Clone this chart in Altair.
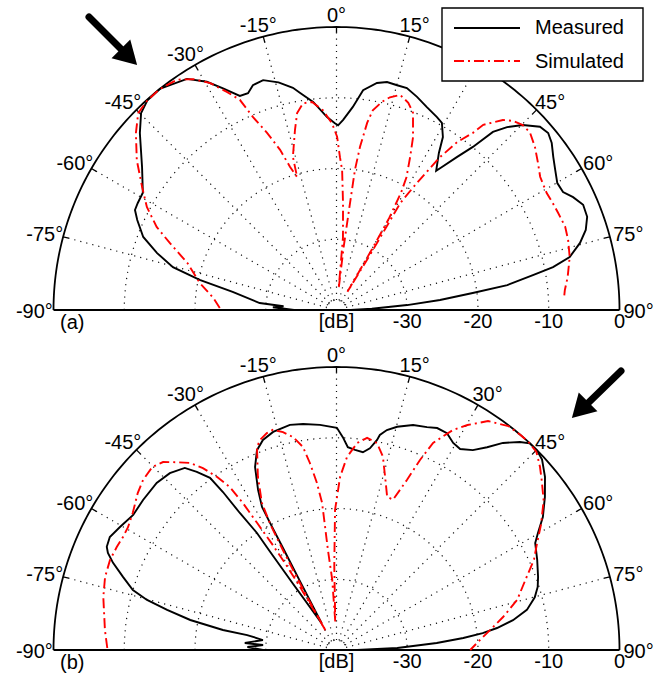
import altair as alt
import pandas as pd

# ---------------- data (angle in degrees, level in dB) ----------------
SERIES = ["Measured", "Simulated"]

A_MEAS_ANG = [-90, -87.5, -86, -84.8, -80.1, -77.6, -75.3, -72.4, -69.3, -65.7, -63.6, -61.7, -58.8, -53.7, -48.0,
              -44.8, -42.1, -38.5, -32.9, -29.6, -27.1, -24.3, -22.2, -20.4, -17.7, -14.3, -11.1, -9.5, -6.4, -2.8,
              -0.5, 0.5, 2.0, 4.6, 6.9, 10.1, 12.5, 15.1, 17.6, 20.7, 24.0, 27.5, 29.4, 31.6, 33.1, 35.6, 36.3, 38.2,
              39.9, 41.3, 43.0, 45.2, 48.0, 50.1, 52.2, 54.8, 57.4, 60.1, 62.5, 64.5, 66.9, 69.6, 72.2, 74.6, 77.2,
              78.8, 79.9, 81.7, 82.9, 84.5, 86.0, 88.0, 90.0]
A_MEAS_DB = [-34, -31, -32.5, -29.1, -25.1, -20.2, -16.1, -13.4, -10.8, -9.1, -8.2, -8.1, -8.0, -5.9, -2.6,
             -0.8, -0.1, 0, -1.1, -2.9, -4.8, -6.8, -6.9, -6.1, -5.9, -6.8, -8.0, -8.9, -10.4, -12.7,
             -13.6, -13.9, -13.1, -11.2, -8.7, -7.4, -7.0, -7.1, -7.1, -7.8, -8.6, -9.25, -9.65, -11.3, -13.5, -15.8,
             -15.0, -12.5, -9.95, -6.5, -4.65, -2.9, -1.3, -1.0, -1.5, -2.5, -3.3, -4.0, -3.9, -2.95, -2.1, -2.2,
             -3.0, -4.3, -6.2, -8.8, -11.8, -15.6, -20.6, -25.3, -30, -35, -38]

A_SIM_ANG = [-89, -84.4, -78.8, -72.5, -68.1, -65.2, -61.5, -57.7, -53.1, -48.6, -45.2, -42.1, -38.8, -34.7, -31.8,
             -29.1, -26.7, -24.7, -23.4, -21.4, -19.4, -18.0, -16.5, -15.9, -13.0, -11.3, -9.2, -6.7, -3.9, -1.4,
             0.2, 1.3, 2.3, 3.5, 5.1, 5.8, 6.5, 7.2, 7.5, 8.2, 9.3, 10.3, 12.3, 14.1, 16.5, 19.1, 21.2, 23.9, 25.7,
             27.8, 28.8, 29.8, 30.3, 31.0, 31.3, 31.0, 30.8, 32.3, 34.1, 35.7, 37.6, 38.4, 41.2, 43.0, 45.2, 47.5,
             50.6, 53.9, 56.8, 60.9, 63.7, 66.3, 70.0, 73.2, 77.2, 81.9, 85.0, 87.0]
A_SIM_DB = [-23.5, -22.5, -20.3, -17.9, -14.6, -12.0, -9.5, -7.5, -4.7, -2.2, -0.5, -0.1, 0, -0.4, -1.6,
            -3.3, -5.5, -7.3, -10.3, -13.1, -16.0, -18.7, -20.4, -17.5, -13.9, -11.6, -10.4, -10.4, -11.7, -13.6,
            -15.5, -18.4, -20.2, -24.9, -29.7, -37, -31, -24.8, -20.0, -16.7, -13.2, -11.3, -9.9, -9.0, -8.3, -9.0,
            -10.1, -13.3, -16.0, -18.8, -21, -25, -30, -37, -31, -26.2, -22.4, -18.8, -13.9, -10.8, -8.4, -6.6,
            -4.3, -3.45, -2.9, -2.9, -3.7, -4.75, -5.6, -6.0, -5.9, -5.8, -5.6, -5.8, -6.2, -7.0, -7.6, -7.8]

B_MEAS_ANG = [-90, -88.1, -86.1, -85.6, -82.3, -80.5, -80.0, -78.4, -76.7, -75.2, -73.6, -71.1, -68.7, -67.0, -65.8,
              -63.5, -60.4, -56.4, -52.2, -47.1, -43.3, -39.8, -38.1, -36.3, -35.7, -35.2, -34.2, -34.1, -33.3, -29.0,
              -28.0, -27.7, -27.6, -27.5, -26.1, -24.0, -21.7, -19.3, -16.2, -11.7, -8.4, -4.2, 0.1, 1.7, 3.2,
              5.3, 7.6, 9.4, 10.9, 11.4, 12.9, 15.2, 18.8, 22.1, 24.4, 27.0, 29.4, 31.6, 34.3, 36.6,
              38.8, 41.4, 43.1, 45.1, 47.2, 50.3, 53.7, 57.2, 59.9, 61.7, 65.8, 70.1, 72.6, 75.1, 78.1,
              80.4, 82.2, 83.4, 84.6, 86.0, 88.1, 90.0]
B_MEAS_DB = [-29.6, -27.4, -29.6, -27.0, -29.5, -27.2, -23.7, -18.9, -15.4, -12.3, -10.0, -8.1, -6.1, -4.9, -4.4,
             -4.2, -4.8, -5.5, -5.4, -5.3, -5.65, -6.5, -8.0, -9.8, -12.5, -16.3, -20.0, -22.9, -28.7, -35.7,
             -29.3, -24.0, -19.8, -17.2, -14.8, -11.7, -9.6, -8.55, -7.9, -7.5, -7.7, -8.1, -8.6, -9.9, -11.3,
             -11.6, -11.8, -11.1, -9.8, -9.0, -8.1, -7.3, -6.4, -6.0, -5.55, -5.6, -6.4, -6.65, -5.8, -4.3,
             -2.45, -0.8, 0, 0, -0.4, -1.7, -3.45, -5.3, -7.1, -8.1, -8.9, -9.7, -10.2, -11.0, -12.5,
             -14.7, -17.1, -19.2, -22.0, -25.8, -31.4, -37.1]

B_SIM_ANG = [-89.5, -85.1, -77.2, -72.5, -68.3, -64.9, -62.1, -59.5, -56.1, -51.7, -48.7, -45.2, -42.7, -40.3, -38.1,
             -36.3, -34.6, -33.2, -32.5, -32.0, -31.3, -30.6, -30.0, -29.6, -29.3, -29.0, -28.6, -28.2, -27.8, -26.9,
             -24.4, -21.4, -20.0, -17.8, -16.1, -13.8, -11.5, -9.4, -8.1, -6.7, -5.6, -5.3, -4.9, -3.5, -2.5,
             -1.5, -0.6, 1.2, 3.1, 5.7, 8.2, 11.1, 13.5, 15.7, 18.3, 20.6, 22.5, 23.7, 25.0, 27.9,
             30.2, 33.5, 37.5, 40.5, 42.7, 45.2, 48.0, 50.5, 54.2, 58.5, 62.0, 65.4, 69.6, 74.5, 78.8,
             83.6, 87.1, 90.0]
B_SIM_DB = [-7.6, -7.15, -6.2, -5.7, -5.55, -5.7, -5.85, -5.8, -5.3, -4.2, -3.6, -3.3, -3.85, -5.2, -6.4,
            -8.1, -10.3, -12.5, -15.4, -18.8, -22.4, -26.0, -30.0, -34.0, -37.0, -32.0, -28.0, -24.0, -20.0, -16.7,
            -13.1, -9.2, -8.4, -7.8, -7.6, -8.3, -9.3, -10.9, -13.3, -16.2, -19.1, -22.5, -25.8, -30.0, -36.0,
            -28.0, -20.2, -15.5, -12.7, -10.6, -9.7, -10.2, -11.9, -14.6, -17.2, -17.3, -14.0, -10.7, -7.7, -4.8,
            -3.2, -1.2, -0.1, 0, 0, -0.2, -1.3, -2.4, -3.9, -6.1, -7.9, -9.3, -11.5, -13.5, -16.0,
            -18.6, -20.1, -21.1]

ANG_TICKS = [-90, -75, -60, -45, -30, -15, 0, 15, 30, 45, 60, 75, 90]
RAY_ANGS = [-75, -60, -45, -30, -15, 0, 15, 30, 45, 60, 75]
GRID_DB = [-30, -20, -10]
RAD_TICKS = [-40, -30, -20, -10, 0]
RAD_LABELS = ["[dB]", "-30", "-20", "-10", "0"]
PANEL_TAGS = ["(a)", "(b)"]

# ---------------- layout ----------------
W, H = 660, 340
K = 283 / 40.0             # pixels per dB
CX, CY = 336.5, 310        # polar origin inside a panel
XDOM = [-CX / K, (W - CX) / K]
YDOM = [-(H - CY) / K, CY / K]
FONT = "Liberation Sans"

XS = alt.Scale(domain=XDOM, nice=False, zero=False)
YS = alt.Scale(domain=YDOM, nice=False, zero=False)


def to_xy(ch):
    return ch.transform_calculate(r="max(datum.db + 40, 0)").transform_calculate(
        px="datum.r * sin(datum.ang * PI / 180)"
    ).transform_calculate(
        py="datum.r * cos(datum.ang * PI / 180)"
    )


def lines(df, **mark):
    return to_xy(alt.Chart(df).mark_line(**mark)).encode(
        x=alt.X("px:Q", scale=XS, axis=None),
        y=alt.Y("py:Q", scale=YS, axis=None),
        detail="g:N",
        order="i:Q",
    )


def curve_df(angs, dbs):
    return pd.DataFrame({"g": "c", "i": range(len(angs)), "ang": angs, "db": dbs})


circ_rows = []
for d in GRID_DB + [-38.6]:
    for i, a in enumerate(range(-90, 91, 2)):
        circ_rows.append({"g": f"c{d}", "i": i, "ang": a, "db": d})
circ_df = pd.DataFrame(circ_rows)

ray_rows = []
for a in RAY_ANGS:
    for j, d in enumerate([-38.6, 0]):
        ray_rows.append({"g": f"r{a}", "i": j, "ang": a, "db": d})
ray_df = pd.DataFrame(ray_rows)

outer_df = pd.DataFrame({"g": "o", "i": range(181), "ang": list(range(-90, 91)), "db": 0})
base_df = pd.DataFrame({"g": "b", "i": [0, 1], "ang": [-90, 90], "db": [0, 0]})
tick_rows = []
for a in RAY_ANGS:
    for j, d in enumerate([0, -0.8]):
        tick_rows.append({"g": f"t{a}", "i": j, "ang": a, "db": d})
tick_df = pd.DataFrame(tick_rows)

ang_lab_df = pd.DataFrame({"ang": ANG_TICKS, "txt": [f"{a}°" for a in ANG_TICKS]})
rad_lab_df = pd.DataFrame({"db": RAD_TICKS, "txt": RAD_LABELS})
one = pd.DataFrame({"k": [0]})


def panel(meas, sim, tag, shaft, head, head_angle, legend):
    layers = [
        lines(circ_df, color="#111111", strokeWidth=1.2, strokeDash=[1.2, 5]),
        lines(ray_df, color="#111111", strokeWidth=1.2, strokeDash=[1.2, 5]),
        lines(outer_df, color="black", strokeWidth=1.8),
        lines(tick_df, color="black", strokeWidth=1.3),
        lines(base_df, color="black", strokeWidth=2.2),
        lines(curve_df(*meas), color="black", strokeWidth=1.9),
        lines(curve_df(*sim), color="#ff0000", strokeWidth=1.9, strokeDash=[10, 4, 2, 4]),
        alt.Chart(ang_lab_df).mark_text(font=FONT, fontSize=20, align="center", baseline="middle", color="black")
        .transform_calculate(lx="42.7 * sin(datum.ang * PI / 180)")
        .transform_calculate(ly="41.9 * cos(datum.ang * PI / 180) - 0.3")
        .encode(x=alt.X("lx:Q", scale=XS, axis=None), y=alt.Y("ly:Q", scale=YS, axis=None), text="txt:N"),
        alt.Chart(rad_lab_df).mark_text(font=FONT, fontSize=20, align="center", baseline="middle", color="black")
        .transform_calculate(rx="datum.db + 40")
        .encode(x=alt.X("rx:Q", scale=XS, axis=None), y=alt.value(CY + 12), text="txt:N"),
        alt.Chart(one).mark_text(font=FONT, fontSize=20, align="left", baseline="middle", color="black", text=tag)
        .encode(x=alt.value(60), y=alt.value(CY + 13)),
        alt.Chart(one).mark_rule(color="black", strokeWidth=7, strokeCap="round")
        .encode(x=alt.value(shaft[0]), y=alt.value(shaft[1]), x2=alt.value(shaft[2]), y2=alt.value(shaft[3])),
        alt.Chart(one).mark_point(shape="triangle-up", filled=True, size=700, angle=head_angle,
                                  color="black", opacity=1, strokeWidth=0)
        .encode(x=alt.value(head[0]), y=alt.value(head[1])),
    ]
    if legend:
        layers += [
            alt.Chart(one).mark_rect(fill="white", stroke="black", strokeWidth=1.4)
            .encode(x=alt.value(442), x2=alt.value(643), y=alt.value(8), y2=alt.value(81)),
            alt.Chart(one).mark_rule(color="black", strokeWidth=1.8)
            .encode(x=alt.value(454), x2=alt.value(520), y=alt.value(28)),
            alt.Chart(one).mark_rule(color="#ff0000", strokeWidth=1.8, strokeDash=[10, 4, 2, 4])
            .encode(x=alt.value(454), x2=alt.value(520), y=alt.value(61)),
            alt.Chart(one).mark_text(font=FONT, fontSize=20, align="left", baseline="middle", color="black",
                                     text=SERIES[0]).encode(x=alt.value(535), y=alt.value(28)),
            alt.Chart(one).mark_text(font=FONT, fontSize=20, align="left", baseline="middle", color="black",
                                     text=SERIES[1]).encode(x=alt.value(535), y=alt.value(62)),
        ]
    return alt.layer(*layers).properties(width=W, height=H)


top = panel((A_MEAS_ANG, A_MEAS_DB), (A_SIM_ANG, A_SIM_DB), PANEL_TAGS[0],
            (89, 17, 124, 52), (129, 57), 135, True)
bottom = panel((B_MEAS_ANG, B_MEAS_DB), (B_SIM_ANG, B_SIM_DB), PANEL_TAGS[1],
               (621, 31, 585, 66), (580, 70), 225, False)

chart = alt.vconcat(top, bottom, spacing=0).properties(
    padding=0, bounds="flush", background="white"
).configure_view(stroke=None)

chart.save("out.html", embed_options={"renderer": "svg", "actions": False})
